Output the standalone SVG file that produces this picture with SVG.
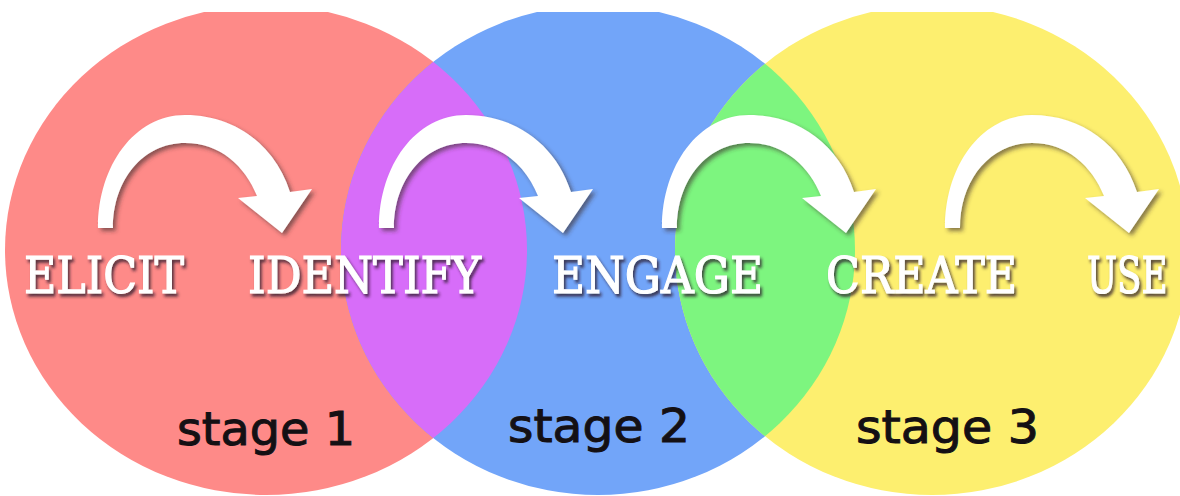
<svg xmlns="http://www.w3.org/2000/svg" width="1180" height="496" viewBox="0 0 1180 496">
  <style>
    .word { font-family: "DejaVu Serif", "Liberation Serif", serif; font-weight: normal; font-size: 51px; fill: #ffffff; stroke: #ffffff; stroke-width: 1.2px; }
    .stage { font-family: "DejaVu Sans", "Noto Sans", sans-serif; font-size: 46px; fill: #141014; stroke: #141014; stroke-width: 1px; }
    .arrow { fill: #ffffff; }
  </style>
  <defs>
    <clipPath id="page"><rect x="0" y="12" width="1180" height="484"/></clipPath>
    <clipPath id="redClip"><ellipse cx="266" cy="250" rx="261" ry="245"/></clipPath>
    <clipPath id="blueClip"><ellipse cx="598" cy="250" rx="257" ry="245"/></clipPath>
    <filter id="arrowShadow" x="-20%" y="-20%" width="140%" height="140%">
      <feDropShadow dx="3" dy="3" stdDeviation="2" flood-color="#3a2a2a" flood-opacity="0.6"/>
    </filter>
    <filter id="textShadow" x="-10%" y="-20%" width="120%" height="150%">
      <feDropShadow dx="2" dy="3" stdDeviation="1.5" flood-color="#2a1a2a" flood-opacity="0.8"/>
    </filter>
    <path id="curvedArrow" d="M98,228 C98,165 135,115 185,115 C235,115 275,145 290,192 L312,189 L282,233 L238,198 L257,196 C245,166 220,143 185,143 C143,143 113,180 113,228 Z"/>
  </defs>
  <rect width="1180" height="496" fill="#ffffff"/>
  <g clip-path="url(#page)">
    <g id="circle-stage1"><ellipse cx="266" cy="250" rx="261" ry="245" fill="#fe8a88"/></g>
    <g id="circle-stage2"><ellipse cx="598" cy="250" rx="257" ry="245" fill="#72a5f9"/></g>
    <g id="circle-stage3"><ellipse cx="932" cy="250" rx="257" ry="245" fill="#fdef6f"/></g>
    <g id="overlap-1-2" clip-path="url(#redClip)"><ellipse cx="598" cy="250" rx="257" ry="245" fill="#d76df9"/></g>
    <g id="overlap-2-3" clip-path="url(#blueClip)"><ellipse cx="932" cy="250" rx="257" ry="245" fill="#7df57f"/></g>
  </g>
  <g id="connectors" filter="url(#arrowShadow)">
    <use href="#curvedArrow" class="arrow"/>
    <use href="#curvedArrow" class="arrow" transform="translate(281,0)"/>
    <use href="#curvedArrow" class="arrow" transform="translate(564,0)"/>
    <use href="#curvedArrow" class="arrow" transform="translate(847,0)"/>
  </g>
  <g filter="url(#textShadow)">
    <g id="node-elicit"><text class="word" x="24" y="293" textLength="160" lengthAdjust="spacingAndGlyphs">ELICIT</text></g>
    <g id="node-identify"><text class="word" x="248" y="293" textLength="233" lengthAdjust="spacingAndGlyphs">IDENTIFY</text></g>
    <g id="node-engage"><text class="word" x="552" y="293" textLength="211" lengthAdjust="spacingAndGlyphs">ENGAGE</text></g>
    <g id="node-create"><text class="word" x="826" y="293" textLength="191" lengthAdjust="spacingAndGlyphs">CREATE</text></g>
    <g id="node-use"><text class="word" transform="translate(1087,293) scale(0.7,1)" x="0" y="0">USE</text></g>
  </g>
  <g id="label-stage1"><text class="stage" x="177" y="445" textLength="178" lengthAdjust="spacingAndGlyphs">stage 1</text></g>
  <g id="label-stage2"><text class="stage" x="508" y="442" textLength="182" lengthAdjust="spacingAndGlyphs">stage 2</text></g>
  <g id="label-stage3"><text class="stage" x="856" y="443" textLength="183" lengthAdjust="spacingAndGlyphs">stage 3</text></g>
</svg>
